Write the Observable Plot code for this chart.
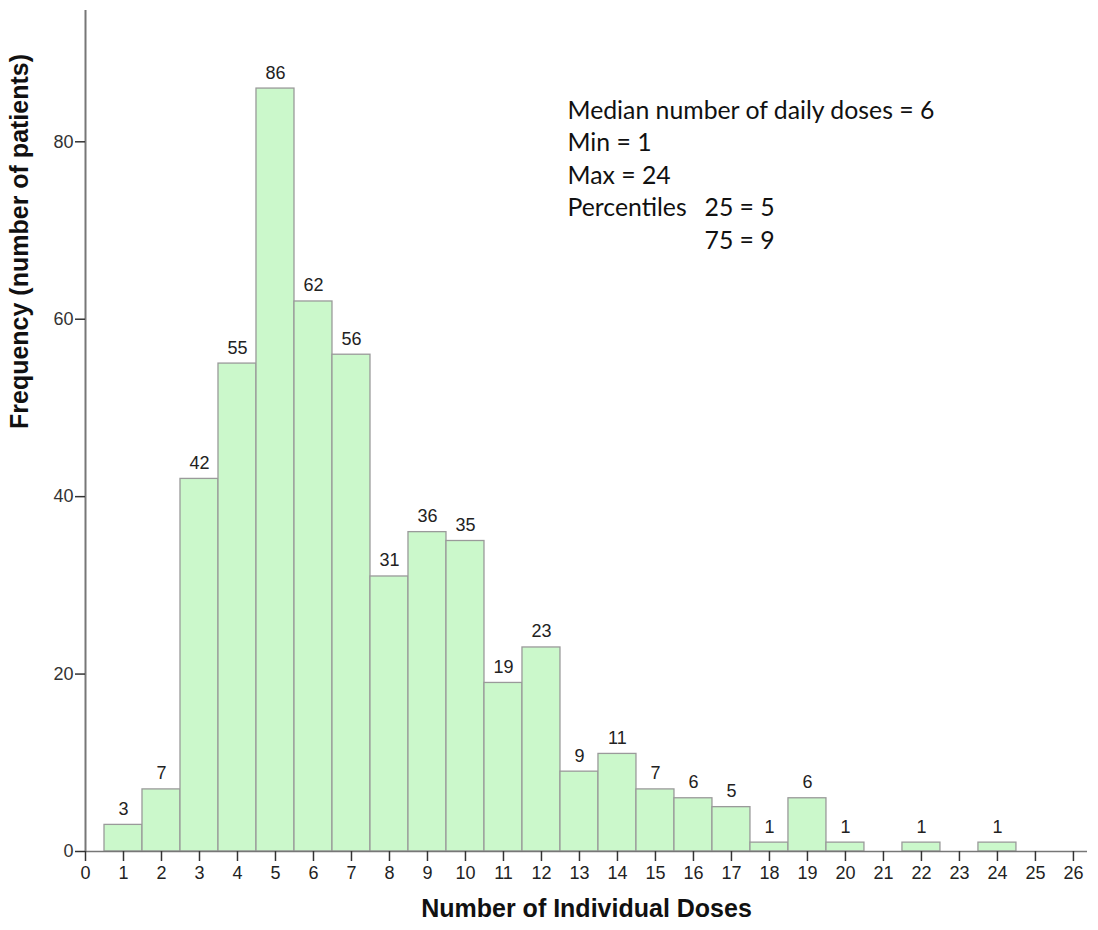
<!DOCTYPE html>
<html>
<head>
<meta charset="utf-8">
<script src="https://cdn.jsdelivr.net/npm/d3@7"></script>
<script src="https://cdn.jsdelivr.net/npm/@observablehq/plot@0.6"></script>
<style>
  html, body { margin: 0; padding: 0; background: #fff; }
  #chart svg { display: block; }
</style>
</head>
<body>
<div id="chart"></div>
<script>
// Number of individual daily doses per patient, and how many patients took each
const doses = [1, 2, 3, 4, 5, 6, 7, 8, 9, 10, 11, 12, 13, 14, 15, 16, 17, 18, 19, 20, 21, 22, 23, 24];
const patients = [3, 7, 42, 55, 86, 62, 56, 31, 36, 35, 19, 23, 9, 11, 7, 6, 5, 1, 6, 1, 0, 1, 0, 1];

const xTicks = d3.range(0, 27);
const yTicks = [0, 20, 40, 60, 80];

// Summary statistics printed in the upper right
const statLines = ["Median number of daily doses = 6", "Min = 1", "Max = 24", "Percentiles"];
const pctLines = ["25 = 5", "75 = 9"];

const rows = doses.map((d, i) => ({dose: d, count: patients[i]})).filter(r => r.count > 0);

const axisFont = "Liberation Sans, Arial, sans-serif";
const noteFont = "Lato, 'Open Sans', sans-serif";
const noteSize = 24.8;
const noteLead = 1.31;

const chart = Plot.plot({
  width: 1098,
  height: 930,
  marginLeft: 85,
  marginRight: 11,
  marginTop: 10,
  marginBottom: 79,
  style: {fontFamily: axisFont, background: "#fff", color: "#222"},
  x: {domain: [0, 26.37], axis: null},
  y: {domain: [0, 94.8], axis: null},
  marks: [
    Plot.rectY(rows, {
      x1: d => d.dose - 0.5,
      x2: d => d.dose + 0.5,
      y: "count",
      fill: "#cbf8cb",
      stroke: "#9a9a9a",
      strokeWidth: 1.3
    }),
    Plot.text(rows, {
      x: "dose",
      y: "count",
      text: d => String(d.count),
      lineAnchor: "bottom",
      dy: -10,
      fontSize: 18,
      fill: "#222"
    }),
    // axis lines
    Plot.ruleY([0], {stroke: "#777", strokeWidth: 1.5}),
    Plot.ruleX([0], {stroke: "#777", strokeWidth: 2}),
    Plot.axisY(yTicks, {
      tickSize: 10,
      tickPadding: 2,
      fontSize: 18,
      stroke: "#333",
      strokeWidth: 1.5,
      fill: "#333",
      label: null
    }),
    Plot.axisX(xTicks, {
      tickSize: 10,
      tickPadding: 5,
      fontSize: 18,
      stroke: "#333",
      strokeWidth: 1.5,
      fill: "#222",
      label: null
    }),
    // axis titles
    Plot.text(["Number of Individual Doses"], {
      frameAnchor: "bottom",
      dy: 65,
      fontSize: 25,
      fontWeight: "bold",
      fill: "#111"
    }),
    Plot.text(["Frequency (number of patients)"], {
      frameAnchor: "left",
      rotate: -90,
      dx: -66,
      dy: -2,
      fontSize: 25,
      fontWeight: "bold",
      fill: "#111"
    }),
    // summary statistics
    Plot.text([statLines.join("\n")], {
      frameAnchor: "top-left",
      dx: 482,
      dy: 85,
      lineAnchor: "top",
      lineHeight: noteLead,
      textAnchor: "start",
      fontSize: noteSize,
      fontFamily: noteFont,
      fill: "#111"
    }),
    Plot.text([pctLines.join("\n")], {
      frameAnchor: "top-left",
      dx: 619,
      dy: 85 + 3 * noteSize * noteLead,
      lineAnchor: "top",
      lineHeight: noteLead,
      textAnchor: "start",
      fontSize: noteSize,
      fontFamily: noteFont,
      fill: "#111"
    })
  ]
});

document.getElementById("chart").appendChild(chart);
</script>
</body>
</html>
